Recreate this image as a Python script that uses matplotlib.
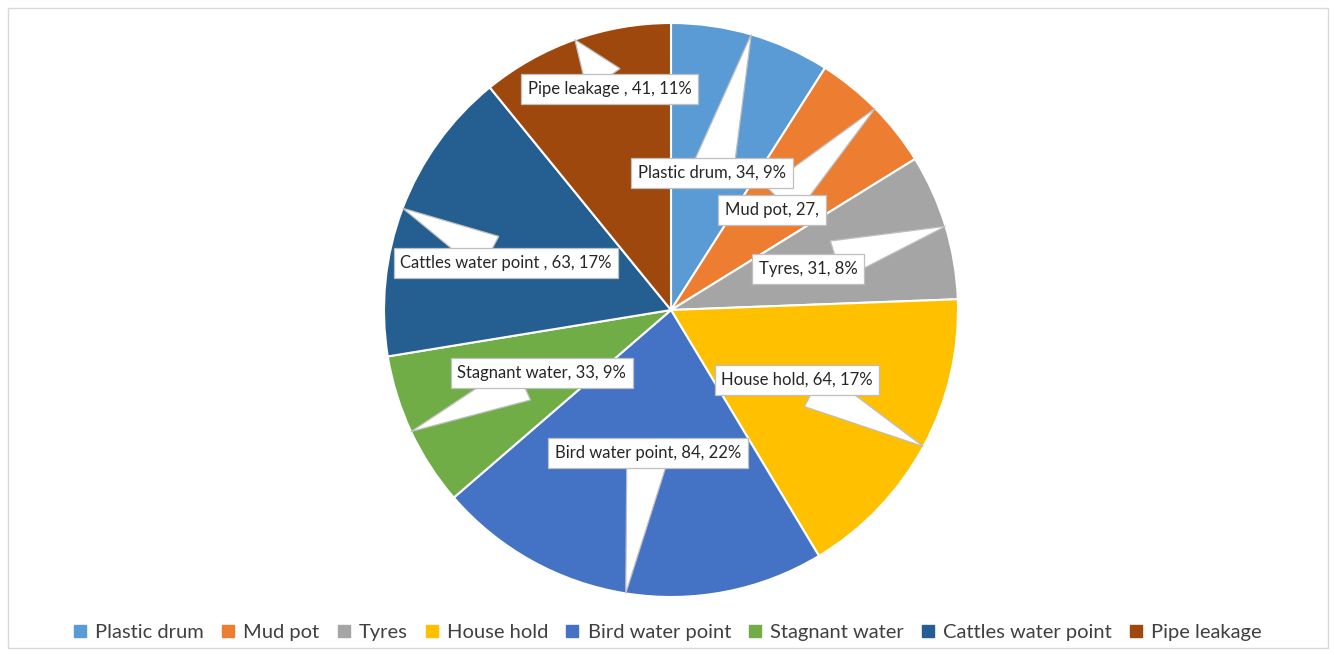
import numpy as np
import matplotlib
matplotlib.use("Agg")
import matplotlib.pyplot as plt
from matplotlib.patches import Polygon, Rectangle
from matplotlib.lines import Line2D

categories = ["Plastic drum", "Mud pot", "Tyres", "House hold", "Bird water point",
              "Stagnant water", "Cattles water point", "Pipe leakage"]
values = [34, 27, 31, 64, 84, 33, 63, 41]
label_texts = ["Plastic drum, 34, 9%", "Mud pot, 27,", "Tyres, 31, 8%", "House hold, 64, 17%",
               "Bird water point, 84, 22%", "Stagnant water, 33, 9%",
               "Cattles water point , 63, 17%", "Pipe leakage , 41, 11%"]
colors = ['#5B9BD5', '#ED7D31', '#A5A5A5', '#FFC000', '#4472C4', '#70AD47', '#255E91', '#9E480E']
# callout box centres (in units of pie radius, relative to centre)
label_pos = [(0.143, 0.477), (0.352, 0.348), (0.477, 0.143), (0.439, -0.244),
             (-0.08, -0.498), (-0.45, -0.219), (-0.575, 0.164), (-0.213, 0.770)]

plt.rcParams['font.family'] = ['Lato', 'DejaVu Sans']

W, H = 1334, 655
fig = plt.figure(figsize=(W / 100, H / 100), dpi=100)
cx, cy, R = 671, 310, 287
half = 300
ax = fig.add_axes([(cx - half) / W, (H - cy - half) / H, 2 * half / W, 2 * half / H])

wedges, _ = ax.pie(values, colors=colors, startangle=90, counterclock=False, radius=1,
                   wedgeprops=dict(edgecolor='white', linewidth=1.5))
ax.set_xlim(-half / R, half / R)
ax.set_ylim(-half / R, half / R)
ax.set_aspect('equal')
ax.axis('off')

texts = []
for i in range(len(values)):
    bx, by = label_pos[i]
    t = ax.text(bx, by, label_texts[i], ha='center', va='center', fontsize=12, color='#262626',
                zorder=4, bbox=dict(boxstyle='square,pad=0.4', facecolor='white',
                                    edgecolor='#bfbfbf', linewidth=0.9))
    texts.append(t)

fig.canvas.draw()
renderer = fig.canvas.get_renderer()
inv = ax.transData.inverted()

total = sum(values)
cum = np.cumsum([0] + values[:-1])
for i, v in enumerate(values):
    mid = (cum[i] + v / 2) / total * 2 * np.pi
    tip = np.array([np.sin(mid), np.cos(mid)])
    bb = texts[i].get_bbox_patch().get_window_extent(renderer)
    (x0, y0), (x1, y1) = inv.transform([[bb.x0, bb.y0], [bb.x1, bb.y1]])
    c = np.array([(x0 + x1) / 2, (y0 + y1) / 2])
    hw, hh = (x1 - x0) / 2, (y1 - y0) / 2
    d = tip - c
    d = d / np.linalg.norm(d)
    s = min(hw / abs(d[0]) if d[0] else 1e9, hh / abs(d[1]) if d[1] else 1e9)
    edge = c + d * s * 0.6
    perp = np.array([-d[1], d[0]]) * 0.07
    poly = Polygon([edge + perp, tip, edge - perp], closed=True, facecolor='white',
                   edgecolor='#bfbfbf', linewidth=0.9, zorder=3)
    ax.add_patch(poly)

handles = [Line2D([0], [0], marker='s', linestyle='none', markersize=9,
                  markerfacecolor=c, markeredgecolor=c) for c in colors]
fig.legend(handles, categories, loc='center', bbox_to_anchor=(0.5, (H - 632) / H), ncol=8,
           frameon=False, fontsize=14.5, handlelength=0.8, handletextpad=0.35,
           columnspacing=0.8, labelcolor='#404040')

fig.patches.append(Rectangle((8 / W, 7 / H), 1320 / W, 640 / H, transform=fig.transFigure,
                             fill=False, edgecolor='#d9d9d9', linewidth=1))

fig.savefig('out.png', dpi=100, facecolor='white')
